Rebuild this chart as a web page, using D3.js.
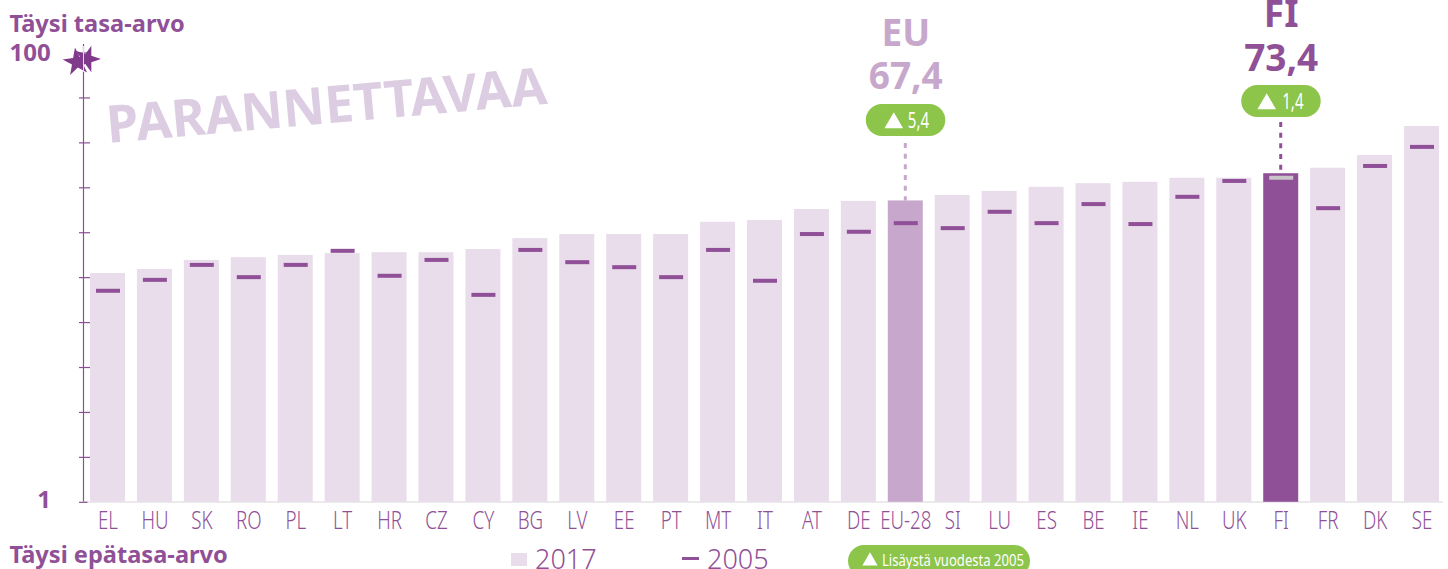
<!DOCTYPE html>
<html><head><meta charset="utf-8">
<script src="https://cdn.jsdelivr.net/npm/d3@7"></script>
<style>html,body{margin:0;padding:0;background:#fff;overflow:hidden}svg{display:block}text{font-family:"Noto Sans","Open Sans",sans-serif}</style>
</head><body><svg id="c" width="1448" height="569"></svg>
<script>
const categories=["EL","HU","SK","RO","PL","LT","HR","CZ","CY","BG","LV","EE","PT","MT","IT","AT","DE","EU-28","SI","LU","ES","BE","IE","NL","UK","FI","FR","DK","SE"];
const values2017=[51.4,52.3,54.3,54.9,55.4,55.8,56.0,56.0,56.7,59.1,60.0,60.0,60.0,62.7,63.1,65.5,67.3,67.4,68.6,69.5,70.4,71.2,71.5,72.4,72.4,73.4,74.6,77.4,83.8];
const values2005=[47.5,49.9,53.2,50.5,53.2,56.3,50.8,54.3,46.6,56.5,53.8,52.7,50.5,56.5,49.7,60.0,60.5,62.4,61.3,64.9,62.4,66.6,62.2,68.2,71.7,72.4,65.7,75.0,79.2];
const yTicks=[1,10.9,20.8,30.7,40.6,50.5,60.4,70.3,80.2,90.1,100];
const C={light:"#e9dceb",mid:"#c7a7cb",dark:"#905097",green:"#8dc44a",wm:"#dccde2",axis:"#8c4f96",star:"#803a8c"};
const svg=d3.select("#c");
const x=d3.scaleBand().domain(categories).range([85.3,1443.7]).paddingInner(0.2542).paddingOuter(0.1);
const y=d3.scaleLinear().domain([1,100]).range([501.8,52.5]);
const fill=c=>c==="FI"?C.dark:c==="EU-28"?C.mid:C.light;
const mid=d=>x(d)+x.bandwidth()/2;

svg.append("line").attr("x1",84).attr("x2",1443).attr("y1",502).attr("y2",502).attr("stroke","#e6e2e6").attr("stroke-width",1.5);
svg.selectAll(".bar").data(categories).join("rect").attr("x",d=>x(d)).attr("width",x.bandwidth())
 .attr("y",(d,i)=>y(values2017[i])).attr("height",(d,i)=>y(1)-y(values2017[i])).attr("fill",d=>fill(d));
svg.selectAll(".m").data(categories).join("rect").attr("x",d=>mid(d)-11.5).attr("width",24)
 .attr("y",(d,i)=>y(values2005[i])-2).attr("height",4).attr("fill",d=>d==="FI"?"#c8c4c8":C.dark);

// axis
const ax=d3.axisLeft(y).tickValues(yTicks).tickSize(5.5).tickFormat("");
const ag=svg.append("g").attr("transform","translate(83.5,0)").call(ax);
ag.selectAll("path").attr("stroke",C.axis).attr("d","M0,44V501.5").attr("stroke-width",1.2);
ag.selectAll("line").attr("stroke",C.axis).attr("x1",-4.5).attr("x2",6.5).attr("stroke-width",1.2);
ag.selectAll("line").filter((d,i)=>i===0).attr("x2",4);

// stars
const star=d3.symbol().type(d3.symbolStar);
svg.append("path").attr("d",star.size(240)()).attr("transform","translate(77,62) rotate(-8)").attr("fill",C.star);
svg.append("path").attr("d",star.size(220)()).attr("transform","translate(87,59) rotate(18)").attr("fill",C.star);
svg.append("line").attr("x1",83.5).attr("x2",83.5).attr("y1",46).attr("y2",72).attr("stroke","#e6d6ea").attr("stroke-width",1);

// axis labels
const T=(t,px,py,size,col,w,anchor)=>svg.append("text").attr("x",px).attr("y",py).attr("font-size",size).attr("fill",col)
 .attr("font-weight",w||400).attr("text-anchor",anchor||"start").text(t);
T("Täysi tasa-arvo",9.5,32,23.6,C.dark,700);
T("100",9.5,61,24,C.dark,700);
T("1",44,508,24,C.dark,700,"middle");
T("Täysi epätasa-arvo",9.5,562.5,23.6,C.dark,700);

// category labels condensed
svg.selectAll(".cl").data(categories).join("text").attr("x",0).attr("y",0)
 .attr("text-anchor","middle").attr("font-size",26).attr("fill",C.dark)
 .attr("transform",d=>`translate(${mid(d)+0.5},529) scale(0.72,1)`)
 .attr("font-weight",300).text(d=>d);

// watermark
T("PARANNETTAVAA",108,143,51.7,C.wm,700).attr("transform","rotate(-5.1 108 143)");

// callouts
function callout(cat,label,val,delta,col,yl,yv,py,ly1,triDx,txtDx){
 const cx=mid(cat);
 T(label,cx+0.5,yl,37,col,700,"middle");
 T(val,cx+0.5,yv,37,col,700,"middle");
 svg.append("rect").attr("x",cx-39.5).attr("y",py).attr("width",79.5).attr("height",32).attr("rx",16).attr("fill",C.green);
 svg.append("path").attr("d",d3.symbol().type(d3.symbolTriangle).size(150)()).attr("transform",`translate(${cx+triDx},${py+19})`).attr("fill","#fff");
 T(delta,0,0,21,"#fff",400).attr("transform",`translate(${cx+txtDx},${py+24}) scale(0.72,1)`);
 svg.append("line").attr("x1",cx).attr("x2",cx).attr("y1",ly1).attr("y2",y(values2017[categories.indexOf(cat)])).attr("stroke",col).attr("stroke-width",3).attr("stroke-dasharray","5,5.67");
}
callout("EU-28","EU","67,4","5,4",C.mid,46,89,104,143,-11.5,2.5);
callout("FI","FI","73,4","1,4",C.dark,27,71,85,122,-14,1.5);

// legend
svg.append("rect").attr("x",511).attr("y",553).attr("width",16).attr("height",13).attr("fill",C.light);
T("2017",535,569,27,C.dark,300);
svg.append("rect").attr("x",682).attr("y",557).attr("width",17).attr("height",3).attr("fill",C.dark);
T("2005",707,569,27,C.dark,300);
svg.append("rect").attr("x",848).attr("y",545).attr("width",182).attr("height",32).attr("rx",16).attr("fill",C.green);
svg.append("path").attr("d",d3.symbol().type(d3.symbolTriangle).size(100)()).attr("transform","translate(870,561)").attr("fill","#fff");
T("Lisäystä vuodesta 2005",0,0,17,"#fff",400).attr("transform","translate(882,566) scale(0.77,1)");
</script></body></html>
